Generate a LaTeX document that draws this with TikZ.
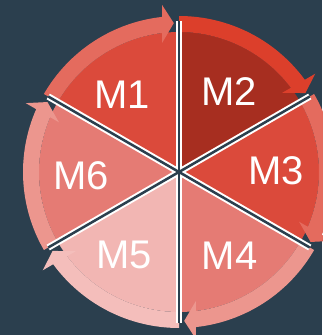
\documentclass[tikz,border=0pt]{standalone}
\usepackage{fontspec}
\setmainfont{Liberation Sans}
\definecolor{bg}{HTML}{2B3F4E}
\definecolor{wa}{HTML}{DB4A3B}
\definecolor{ba}{HTML}{E46B5E}
\definecolor{wb}{HTML}{A72E20}
\definecolor{bb}{HTML}{DC3F2B}
\definecolor{wc}{HTML}{DB4A3B}
\definecolor{bc}{HTML}{E46B5E}
\definecolor{wd}{HTML}{E57B74}
\definecolor{bd}{HTML}{EC968E}
\definecolor{we}{HTML}{F2B6B3}
\definecolor{be}{HTML}{F4BEBB}
\definecolor{wf}{HTML}{E57B74}
\definecolor{bf}{HTML}{EC968E}
\tikzset{
  lbl/.style={text=white, font=\fontsize{40}{40}\selectfont, inner sep=0pt},
  sepwhite/.style={draw=white, line width=6.5pt},
  sepdark/.style={draw=bg, line width=2.5pt}
}
\begin{document}
\begin{tikzpicture}[x=1pt,y=1pt]
\fill[bg] (0,0) rectangle (322,335);
\useasboundingbox (0,0) rectangle (322,335);
\begin{scope}[shift={(179,163)}]
\foreach \s/\wcol/\bcol in {150/wa/ba, 90/wb/bb, 30/wc/bc, -30/wd/bd, -90/we/be, -150/wf/bf}{
  \pgfmathsetmacro\e{\s-60}
  \pgfmathsetmacro\bend{\e+6}
  \pgfmathsetmacro\ho{\e+5.8}
  \pgfmathsetmacro\hi{\e+7.5}
  \pgfmathsetmacro\ht{\e+2}
  \fill[\wcol] (0,0) -- (\s:140) arc[start angle=\s, end angle=\e, radius=140] -- cycle;
  \fill[\bcol] (\s:156) arc[start angle=\s, end angle=\bend, radius=156]
     -- (\bend:140) arc[start angle=\bend, end angle=\s, radius=140] -- cycle;
  \fill[\bcol] (\ho:168) -- (\ht:149) -- (\hi:130) -- cycle;
}
\coordinate (a1) at (90:151);
\coordinate (a2) at (270:151);
\coordinate (b1) at (30:151);
\coordinate (b2) at (210:151);
\coordinate (c1) at (-30:151);
\coordinate (c2) at (150:151);
\draw[sepwhite] (a1) -- (a2);
\draw[sepwhite] (b1) -- (b2);
\draw[sepwhite] (c1) -- (c2);
\draw[sepdark] (a1) -- (a2);
\draw[sepdark] (b1) -- (b2);
\draw[sepdark] (c1) -- (c2);
\node[lbl] (m1) at (-57,77) {M1};
\node[lbl] (m2) at (50,80) {M2};
\node[lbl] (m3) at (97,1) {M3};
\node[lbl] (m4) at (50.5,-84) {M4};
\node[lbl] (m5) at (-55,-83) {M5};
\node[lbl] (m6) at (-98,-4) {M6};
\end{scope}
\end{tikzpicture}
\end{document}
